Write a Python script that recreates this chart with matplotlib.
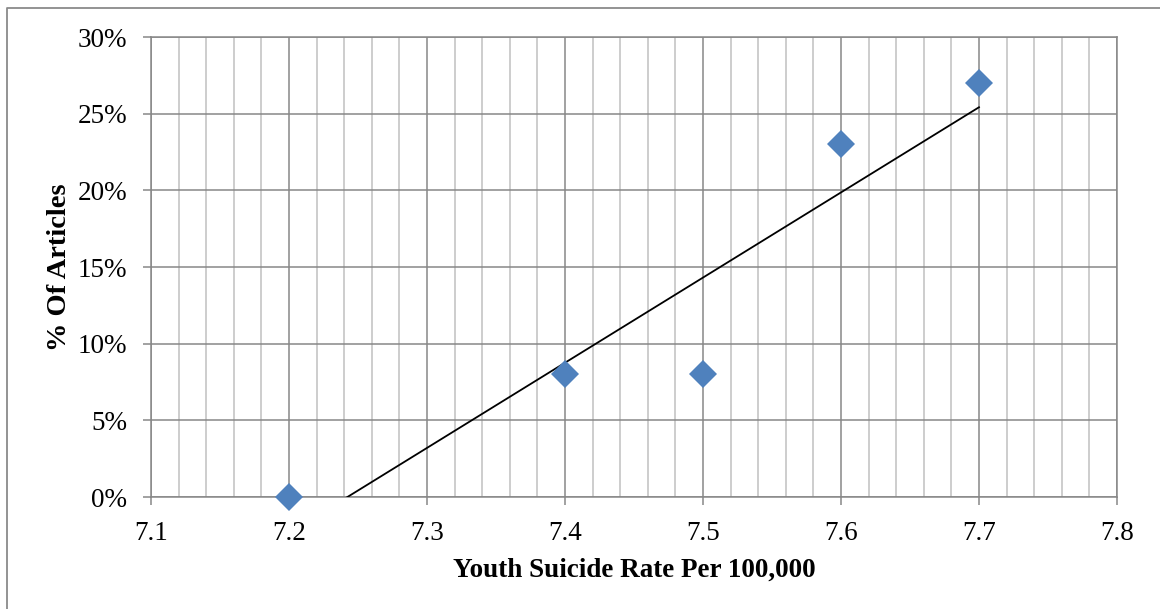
import numpy as np
import matplotlib.pyplot as plt
from matplotlib.lines import Line2D
from matplotlib.ticker import MultipleLocator, PercentFormatter

# jeugdsuicide per 100.000 tegen percentage artikelen
rate = [7.2, 7.4, 7.5, 7.6, 7.7]
articles = [0, 8, 8, 23, 27]

plt.rcParams['font.family'] = ['Liberation Serif', 'DejaVu Serif']

fig = plt.figure(figsize=(11.6, 6.09), dpi=100)
ax = fig.add_axes([0.1302, 0.1839, 0.8327, 0.7553])

major_c = '#878787'
minor_c = '#c0c0c0'

ax.set_xlim(7.1, 7.8)
ax.set_ylim(0, 30)
ax.xaxis.set_major_locator(MultipleLocator(0.1))
ax.xaxis.set_minor_locator(MultipleLocator(0.02))
ax.yaxis.set_major_locator(MultipleLocator(5))
ax.yaxis.set_major_formatter(PercentFormatter(decimals=0))
ax.xaxis.set_major_formatter(lambda v, p: f'{v:.1f}')

ax.grid(True, which='minor', axis='x', color=minor_c, lw=1.1)
ax.grid(True, which='major', axis='both', color=major_c, lw=1.1)
ax.set_axisbelow(True)
for s in ax.spines.values():
    s.set_color(major_c)
    s.set_linewidth(1.1)

ax.tick_params(which='major', length=6, width=1.1, color=major_c,
               labelsize=19.5)
ax.tick_params(axis='x', pad=11)
ax.tick_params(axis='y', pad=11)
ax.tick_params(which='minor', length=0)

# lineaire trendlijn tussen eerste en laatste punt
coef = np.polyfit(rate, articles, 1)
xt = np.array([rate[0], rate[-1]])
ax.plot(xt, np.polyval(coef, xt), color='black', lw=1.3, zorder=3)

ax.plot(rate, articles, linestyle='none', marker='D', markersize=14.5,
        color='#4f81bd', markeredgewidth=0, clip_on=False, zorder=4)

ax.set_xlabel('Youth Suicide Rate Per 100,000', fontsize=19.5,
              fontweight='bold', labelpad=9)
ax.set_ylabel('% Of Articles', fontsize=20.5, fontweight='bold', labelpad=4)

# kader om de figuur
x0 = 7 / 1160
y0 = 1 - 8 / 609
fig.add_artist(Line2D([x0, x0, 1.0], [0.0, y0, y0], color='#8a8a8a', lw=1.3))

fig.savefig('out.png', dpi=100)
